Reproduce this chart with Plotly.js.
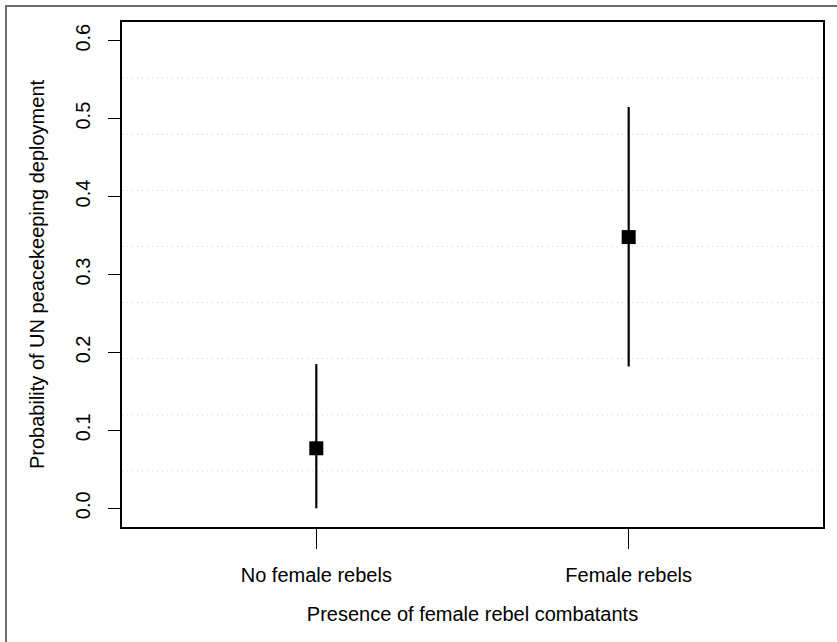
<!DOCTYPE html>
<html>
<head>
<meta charset="utf-8">
<script src="https://cdn.plot.ly/plotly-3.0.1.min.js"></script>
<style>
  html, body { margin: 0; padding: 0; background: #fff; }
  #wrap { position: relative; width: 837px; height: 642px; overflow: hidden; }
  #chart { width: 837px; height: 642px; }
  #frame { position: absolute; left: 5px; top: 5px; width: 840px; height: 635px;
           border-left: 2px solid #6e6e6e; border-top: 2px solid #6e6e6e;
           border-bottom: 1px solid #eeeeee; pointer-events: none; }
</style>
</head>
<body>
<div id="wrap">
  <div id="chart"></div>
  <div id="frame"></div>
</div>
<script>
// ---- data ----
const categories = ["No female rebels", "Female rebels"];
const positions = [1, 2];
const estimates = [0.077, 0.348];
const lower = [0.000, 0.182];
const upper = [0.185, 0.515];
const yTicks = [0.0, 0.1, 0.2, 0.3, 0.4, 0.5, 0.6];
const yTickLabels = ["0.0", "0.1", "0.2", "0.3", "0.4", "0.5", "0.6"];

// R-style axis ranges (4% expansion of ylim = c(0, 0.6))
const ylim = [0, 0.6];
const ypad = 0.04 * (ylim[1] - ylim[0]);
const yRange = [ylim[0] - ypad, ylim[1] + ypad];
const xRange = [0.378, 2.622];

// grid(ny = 9): equally spaced horizontal dotted lines across the plot region
const nGrid = 9;
const gridShapes = [];
for (let k = 1; k < nGrid; k++) {
  const yv = yRange[0] + k * (yRange[1] - yRange[0]) / nGrid;
  gridShapes.push({
    type: 'line', xref: 'paper', x0: 0, x1: 1, yref: 'y', y0: yv, y1: yv,
    line: { color: '#cfcfcf', width: 1, dash: '1px,4px' }, layer: 'below'
  });
}

const trace = {
  type: 'scatter',
  mode: 'markers',
  x: positions,
  y: estimates,
  marker: { symbol: 'square', size: 14, color: '#000000' },
  error_y: {
    type: 'data', symmetric: false,
    array: upper.map((u, i) => u - estimates[i]),
    arrayminus: lower.map((l, i) => estimates[i] - l),
    color: '#000000', thickness: 2.2, width: 0
  },
  hoverinfo: 'skip',
  showlegend: false
};

const font = { family: 'Liberation Sans, Arial, Helvetica, sans-serif', size: 20, color: '#000000' };

const layout = {
  width: 837, height: 642,
  margin: { l: 122, r: 14, t: 22, b: 115 },
  paper_bgcolor: '#ffffff', plot_bgcolor: '#ffffff',
  font: font,
  showlegend: false,
  xaxis: {
    range: xRange, tickmode: 'array', tickvals: positions, ticktext: categories,
    ticks: 'outside', ticklen: 20, tickwidth: 1.5, tickcolor: '#000',
    showgrid: false, zeroline: false,
    showline: true, linecolor: '#000', linewidth: 1.7, mirror: true,
    ticklabelstandoff: 9,
    title: { text: 'Presence of female rebel combatants', font: font, standoff: 22 }
  },
  yaxis: {
    range: yRange, tickmode: 'array', tickvals: yTicks, ticktext: yTickLabels,
    ticks: 'outside', ticklen: 12, tickwidth: 1.5, tickcolor: '#000',
    tickangle: -90,
    showgrid: false, zeroline: false,
    showline: true, linecolor: '#000', linewidth: 1.7, mirror: true,
    ticklabelstandoff: 10,
    title: { text: 'Probability of UN peacekeeping deployment', font: font, standoff: 22 }
  },
  shapes: gridShapes
};

Plotly.newPlot('chart', [trace], layout, { staticPlot: true, displayModeBar: false });
</script>
</body>
</html>
